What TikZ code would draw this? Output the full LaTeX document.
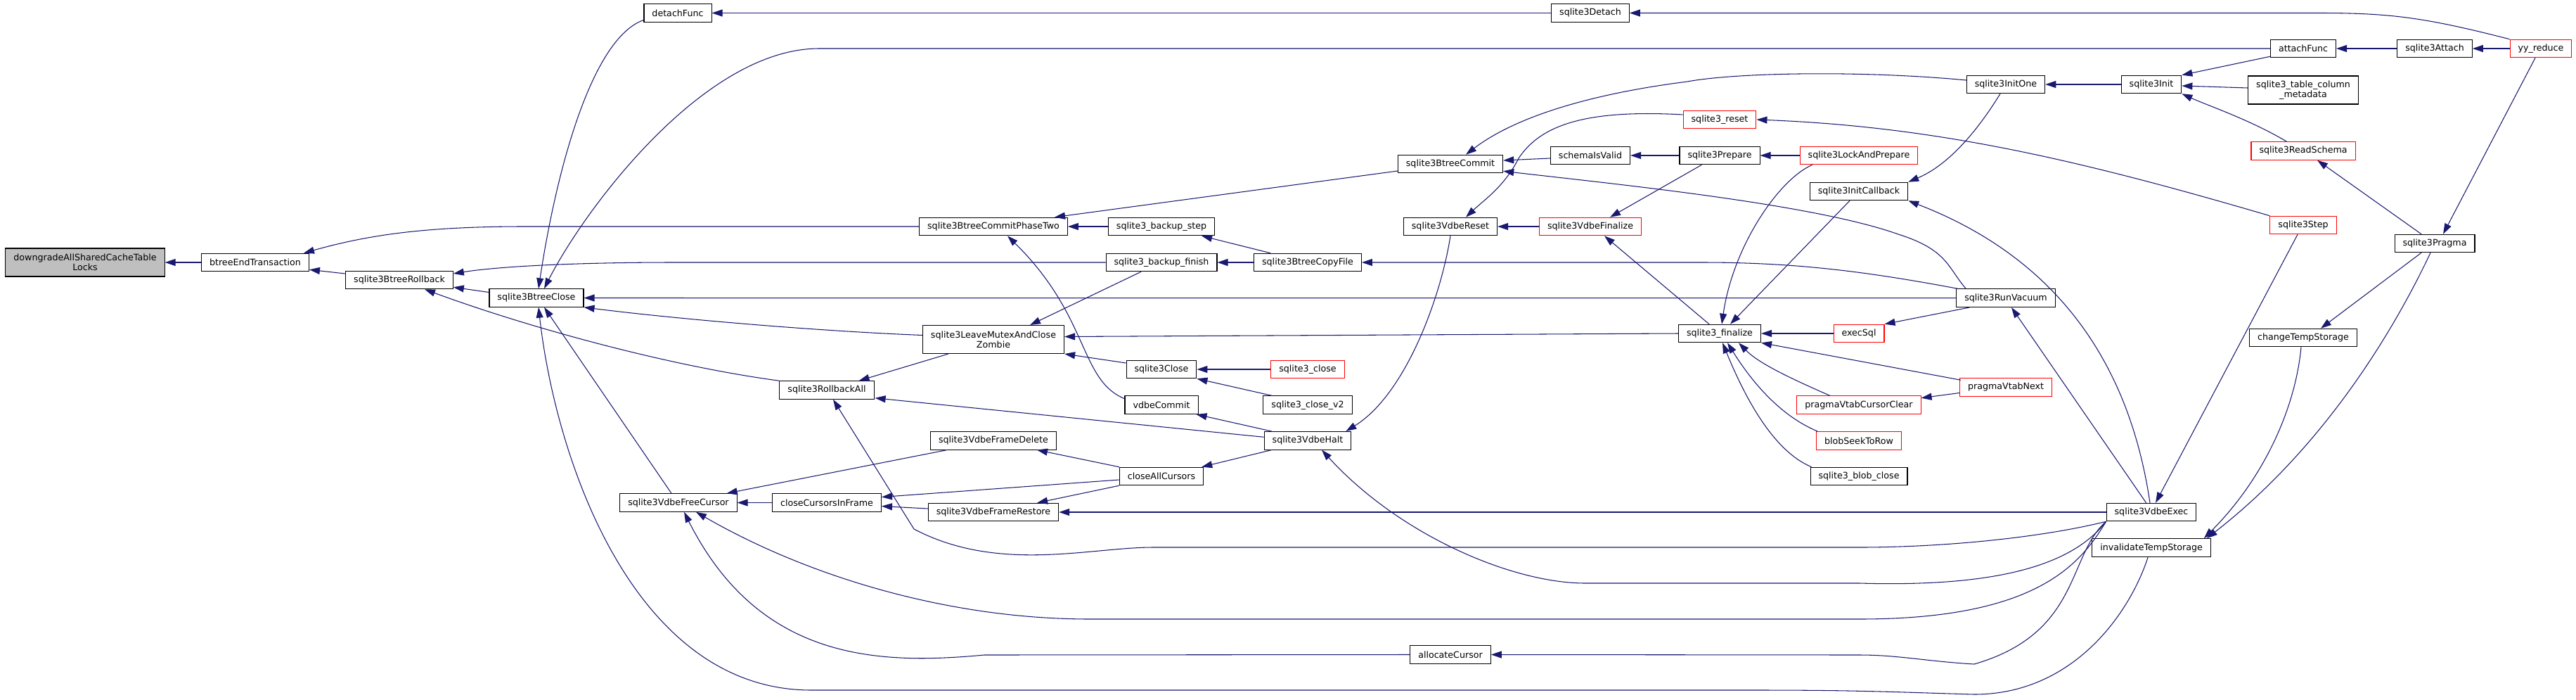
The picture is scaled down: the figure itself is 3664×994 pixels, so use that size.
\documentclass[tikz,border=0pt]{standalone}
\usepackage{fontspec}
\setmainfont{DejaVu Sans}
\usetikzlibrary{arrows.meta,calc}
\definecolor{edgec}{HTML}{191970}
\definecolor{rootc}{HTML}{BFBFBF}
\definecolor{truncc}{HTML}{FF0000}
\newcommand{\fnfont}{\fontsize{7.2}{8.1}\selectfont}
\tikzset{
  fn/.style={draw=black, fill=white, line width=0.6pt, minimum height=0.51cm,
    inner xsep=0.23cm, inner ysep=0pt, font=\fnfont, align=center},
  fnred/.style={fn, draw=truncc},
  fnroot/.style={fn, fill=rootc},
  twoline/.style={minimum height=0.8cm},
  call/.style={color=edgec, line width=0.6pt, -{Triangle[length=0.3cm,width=0.2cm]}}
}
\begin{document}
\begin{tikzpicture}[x=0.02cm, y=-0.02cm]
  \useasboundingbox (0,0) rectangle (3664,994);
  % functions, one column after the other
  \node[fnroot,twoline] (root) at (121,373) {downgradeAllSharedCacheTable\\Locks};
  \node[fn] (bend) at (363,373) {btreeEndTransaction};
  \node[fn] (brb) at (568,398) {sqlite3BtreeRollback};
  \node[fn] (bclose) at (763,423.5) {sqlite3BtreeClose};
  \node[fn] (detf) at (964,18.5) {detachFunc};
  \node[fn] (rball) at (1176,554.5) {sqlite3RollbackAll};
  \node[fn] (fcur) at (965,714.5) {sqlite3VdbeFreeCursor};
  \node[fn] (ccif) at (1176,714.5) {closeCursorsInFrame};
  \node[fn] (cp2) at (1413,322) {sqlite3BtreeCommitPhaseTwo};
  \node[fn,twoline] (zomb) at (1413,482.5) {sqlite3LeaveMutexAndClose\\Zombie};
  \node[fn] (fdel) at (1413,626.3) {sqlite3VdbeFrameDelete};
  \node[fn] (frest) at (1413,728) {sqlite3VdbeFrameRestore};
  \node[fn] (bstep) at (1652,322) {sqlite3\_backup\_step};
  \node[fn] (bfin) at (1652,373) {sqlite3\_backup\_finish};
  \node[fn] (cls) at (1652,525) {sqlite3Close};
  \node[fn] (vcom) at (1652,575.7) {vdbeCommit};
  \node[fn] (cac) at (1652,677) {closeAllCursors};
  \node[fn] (cpf) at (1860,373) {sqlite3BtreeCopyFile};
  \node[fnred] (sclose) at (1860,525) {sqlite3\_close};
  \node[fn] (sclose2) at (1860,575.7) {sqlite3\_close\_v2};
  \node[fn] (halt) at (1860,626.3) {sqlite3VdbeHalt};
  \node[fn] (bcom) at (2063,233) {sqlite3BtreeCommit};
  \node[fn] (vres) at (2063,322) {sqlite3VdbeReset};
  \node[fn] (alloc) at (2063,930.5) {allocateCursor};
  \node[fn] (det) at (2262,18.5) {sqlite3Detach};
  \node[fn] (sval) at (2262,221) {schemaIsValid};
  \node[fnred] (vfin) at (2262,322) {sqlite3VdbeFinalize};
  \node[fnred] (reset) at (2446,170) {sqlite3\_reset};
  \node[fn] (prep) at (2446,221) {sqlite3Prepare};
  \node[fn] (fin) at (2446,474) {sqlite3\_finalize};
  \node[fnred] (lap) at (2644,221) {sqlite3LockAndPrepare};
  \node[fn] (icb) at (2644,272) {sqlite3InitCallback};
  \node[fnred] (exsql) at (2644,474) {execSql};
  \node[fnred] (cclr) at (2644,575.7) {pragmaVtabCursorClear};
  \node[fnred] (blob) at (2644,626.3) {blobSeekToRow};
  \node[fn] (bclo) at (2644,677) {sqlite3\_blob\_close};
  \node[fn] (ione) at (2853,120) {sqlite3InitOne};
  \node[fn] (vac) at (2853,423.7) {sqlite3RunVacuum};
  \node[fnred] (vnext) at (2853,550.5) {pragmaVtabNext};
  \node[fn] (init) at (3060,120) {sqlite3Init};
  \node[fn] (exec) at (3060,728) {sqlite3VdbeExec};
  \node[fn] (inv) at (3060,778.5) {invalidateTempStorage};
  \node[fn] (attf) at (3276,69) {attachFunc};
  \node[fn,twoline] (tcm) at (3276,128) {sqlite3\_table\_column\\\_metadata};
  \node[fnred] (rsch) at (3276,214.5) {sqlite3ReadSchema};
  \node[fnred] (step) at (3276,320) {sqlite3Step};
  \node[fn] (ctmp) at (3276,480) {changeTempStorage};
  \node[fn] (att) at (3463,69) {sqlite3Attach};
  \node[fn] (prag) at (3463,346) {sqlite3Pragma};
  \node[fnred] (yy) at (3614,69) {yy\_reduce};
  % callers of the btree layer
  \draw[call] (bend) -- (root);
  \draw[call] (cp2.west) -- (745,322) .. controls (600,322) and (520,335) .. ($(bend.north east)+(-8,0)$);
  \draw[call] ($(brb.west)+(0,-9)$) -- ($(bend.south east)+(0,-3)$);
  \draw[call] ($(bclose.west)+(0,-8)$) -- ($(brb.south east)+(0,-3)$);
  \draw[call] (bfin.west) -- (960,373) .. controls (800,373) and (700,380) .. ($(brb.east)+(0,-9)$);
  \draw[call] (rball.north west) .. controls (950,520) and (750,465) .. ($(brb.south)+(36,0)$);
  \draw[call] ($(detf.west)+(0,10)$) .. controls (840,55) and (790,250) .. ($(bclose.north)+(3,0)$);
  \draw[call] (attf.west) -- (1165,69) .. controls (1000,69) and (830,300) .. ($(bclose.north)+(11,0)$);
  \draw[call] (det) -- (detf);
  \draw[call] (yy.north west) .. controls (3450,25) and (3400,18.5) .. (3300,18.5) -- (det.east);
  \draw[call] (att) -- (attf);
  \draw[call] (yy) -- (att);
  \draw[call] ($(attf.south west)+(0,-2)$) -- (init.north east);
  \draw[call] ($(tcm.west)+(0,-3)$) -- ($(init.east)+(0,2)$);
  \draw[call] ($(rsch.north west)+(51,0)$) .. controls (3200,170) and (3140,150) .. (init.south east);
  \draw[call] (init) -- (ione);
  \draw[call] ($(ione.west)+(0,-6)$) .. controls (2650,100) and (2470,103) .. (2400,116) .. controls (2250,135) and (2150,170) .. ($(bcom.north)+(22,0)$);
  \draw[call] ($(sval.west)+(0,4)$) -- ($(bcom.east)+(0,-5)$);
  \draw[call] (prep) -- (sval);
  \draw[call] ($(vac.north west)+(14,0)$) .. controls (2770,380) and (2770,355) .. (2700,333) .. controls (2580,290) and (2300,262) .. ($(bcom.south east)+(0,-3)$);
  \draw[call] ($(bcom.west)+(0,10)$) -- ($(cp2.north)+(87,0)$);
  \draw[call] (bstep) -- (cp2);
  \draw[call] ($(cpf.north west)+(24,0)$) -- ($(bstep.south east)+(-19,0)$);
  \draw[call] (cpf) -- (bfin);
  \draw[call] ($(vac.north west)+(3,0)$) .. controls (2650,385) and (2550,373) .. (2420,373) -- (cpf.east);
  \draw[call] (vac) -- (bclose);
  \draw[call] ($(zomb.west)+(0,-6)$) .. controls (1150,470) and (950,452) .. (bclose.south east);
  \draw[call] ($(fcur.north)+(-10,0)$) -- ($(bclose.south)+(11,0)$);
  \draw[call] ($(inv.south west)+(80,0)$) .. controls (3030,870) and (2950,987) .. (2808,987) .. controls (2700,984) and (2650,981) .. (2500,981) -- (1154,981) .. controls (900,981) and (790,650) .. ($(bclose.south)+(3,0)$);
  % cursors and frames
  \draw[call] (ccif) -- (fcur);
  \draw[call] ($(fdel.south west)+(24,0)$) -- ($(fcur.north east)+(-15,0)$);
  \draw[call] (exec) -- (frest);
  \draw[call] (exec.south west) .. controls (2900,765) and (2760,778) .. (2645,778) -- (1640,778) .. controls (1550,778) and (1420,815) .. (1300,752) -- ($(rball.south)+(9,0)$);
  \draw[call] (exec.south west) .. controls (2950,800) and (2850,835) .. (2645,829) -- (2255,829) .. controls (2150,829) and (1990,760) .. ($(halt.south)+(20,0)$);
  \draw[call] (exec.south west) .. controls (2960,800) and (2900,880) .. (2645,880) -- (1550,880) .. controls (1350,880) and (1150,820) .. ($(fcur.south)+(25,0)$);
  \draw[call] (exec.south west) .. controls (2940,790) and (2960,900) .. (2808,944) .. controls (2740,940) and (2700,931) .. (2645,931) -- (alloc.east);
  \draw[call] (alloc.west) -- (1400,931) .. controls (1250,945) and (1080,940) .. ($(fcur.south)+(8,0)$);
  \draw[call] ($(cac.west)+(0,5)$) -- ($(ccif.east)+(0,-8)$);
  \draw[call] ($(frest.west)+(0,-5)$) -- ($(ccif.east)+(0,5)$);
  \draw[call] (cac.north west) -- ($(fdel.south east)+(-28,0)$);
  \draw[call] (cac.south west) -- ($(frest.north east)+(-31,0)$);
  \draw[call] ($(halt.south west)+(11,0)$) -- ($(cac.north east)+(-3,0)$);
  \draw[call] ($(halt.west)+(0,-5)$) -- ($(rball.south east)+(1,-2)$);
  \draw[call] ($(halt.north west)+(11,0)$) -- ($(vcom.south east)+(-3,0)$);
  \draw[call] ($(vcom.west)+(0,-9)$) .. controls (1535,540) and (1550,450) .. ($(cp2.south)+(20,0)$);
  % closing the connection
  \draw[call] ($(cls.west)+(0,-9)$) -- (zomb.south east);
  \draw[call] (sclose) -- (cls);
  \draw[call] ($(sclose2.north west)+(13,0)$) -- (cls.south east);
  \draw[call] (vres.south) .. controls (2050,420) and (2000,560) .. ($(halt.north east)+(-8,0)$);
  \draw[call] (fin.west) -- ($(zomb.east)+(0,-4)$);
  \draw[call] ($(bfin.south)+(-29,0)$) -- ($(zomb.north)+(52,0)$);
  \draw[call] ($(zomb.south west)+(37,0)$) -- ($(rball.north east)+(-22,0)$);
  % statements
  \draw[call] (vfin) -- (vres);
  \draw[call] ($(reset.west)+(0,-7)$) .. controls (2250,155) and (2190,180) .. (2160,225) .. controls (2140,265) and (2110,285) .. ($(vres.north)+(22,0)$);
  \draw[call] ($(prep.south west)+(32,0)$) -- ($(vfin.north)+(28,0)$);
  \draw[call] ($(fin.north west)+(44,0)$) -- ($(vfin.south)+(20,0)$);
  \draw[call] (lap) -- (prep);
  \draw[call] ($(lap.south west)+(18,0)$) .. controls (2530,255) and (2465,350) .. ($(fin.north)+(3,0)$);
  \draw[call] ($(icb.south)+(-13,0)$) -- ($(fin.north)+(15,0)$);
  \draw[call] ($(ione.south)+(-8,0)$) .. controls (2810,190) and (2770,235) .. (icb.north east);
  \draw[call] ($(exec.north west)+(57,0)$) -- ($(vac.south)+(8,0)$);
  \draw[call] ($(exec.north)+(-2,0)$) .. controls (3035,560) and (2960,380) .. (icb.south east);
  \draw[call] (step.north west) .. controls (2950,225) and (2750,180) .. (reset.east);
  \draw[call] ($(step.south)+(-8,0)$) -- ($(exec.north)+(6,0)$);
  \draw[call] (exsql) -- (fin);
  \draw[call] ($(vac.south west)+(19,0)$) -- (exsql.north east);
  \draw[call] ($(vnext.north west)+(2,3)$) -- (fin.south east);
  \draw[call] ($(vnext.west)+(0,8)$) -- ($(cclr.east)+(0,-10)$);
  \draw[call] ($(cclr.north)+(-41,0)$) .. controls (2540,535) and (2500,515) .. ($(fin.south)+(27,0)$);
  \draw[call] ($(blob.north west)+(2,0)$) .. controls (2530,590) and (2490,540) .. ($(fin.south)+(11,0)$);
  \draw[call] ($(bclo.north west)+(2,0)$) .. controls (2520,640) and (2480,560) .. ($(fin.south)+(4,0)$);
  % pragma and temp storage
  \draw[call] ($(prag.north)+(-19,0)$) -- ($(rsch.south)+(20,0)$);
  \draw[call] ($(yy.south)+(-8,0)$) -- ($(prag.north)+(12,0)$);
  \draw[call] ($(prag.south)+(-19,0)$) -- ($(ctmp.north)+(25,0)$);
  \draw[call] ($(ctmp.south)+(-3,0)$) .. controls (3265,580) and (3220,680) .. ($(inv.north east)+(-10,0)$);
  \draw[call] ($(prag.south)+(-6,0)$) .. controls (3400,480) and (3300,640) .. ($(inv.north east)+(-6,0)$);
\end{tikzpicture}
\end{document}
